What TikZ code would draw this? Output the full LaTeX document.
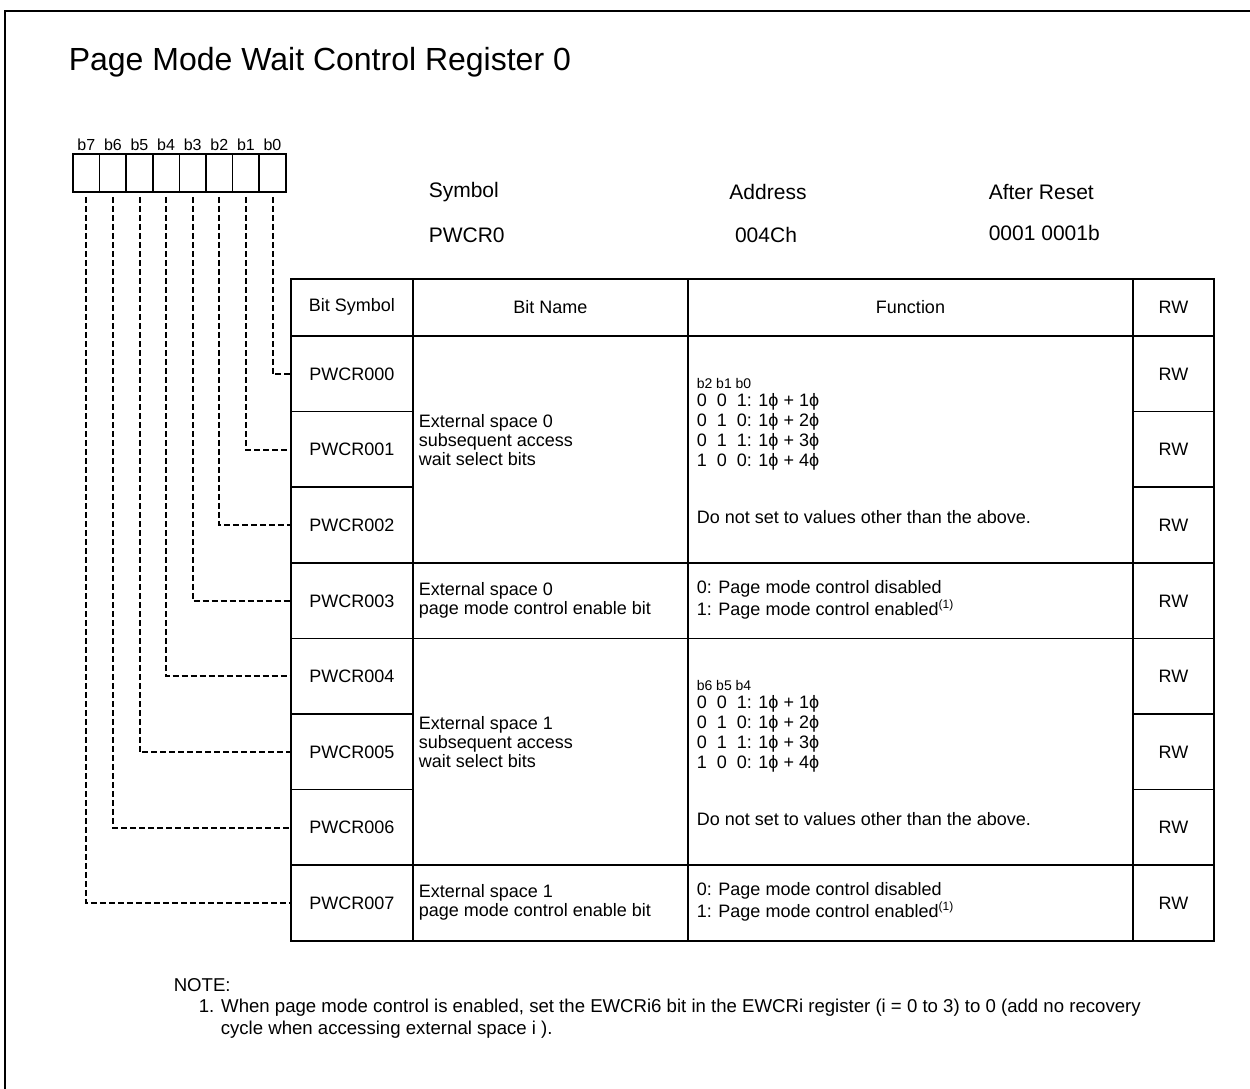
\documentclass[tikz,border=0pt]{standalone}
\usepackage{fontspec}
\setmainfont{Liberation Sans}

\begin{document}
\begin{tikzpicture}[x=0.5pt, y=-0.5pt, line width=0.8pt]
  \tikzset{bitcell/.style={draw, rectangle, inner sep=0pt, minimum width=13.3pt, minimum height=19pt},
    bitlabel/.style={font=\fontsize{8}{9}\selectfont, inner sep=0pt},
    symcell/.style={rectangle, inner sep=0pt, minimum width=61pt, minimum height=37.8pt, font=\fontsize{9}{10}\selectfont},
    rwcell/.style={rectangle, inner sep=0pt, minimum width=40.5pt, minimum height=37.8pt, font=\fontsize{9}{10}\selectfont},
    headcell/.style={inner sep=0pt, font=\fontsize{9}{10}\selectfont},
    cell/.style={inner sep=0pt, font=\fontsize{9}{9.5}\selectfont, align=left, anchor=west},
    waitlist/.style={cell, font=\fontsize{9}{10}\selectfont},
    small/.style={inner sep=0pt, font=\fontsize{7}{8}\selectfont, anchor=west},
    info/.style={inner sep=0pt, font=\fontsize{10.5}{12}\selectfont},
    notetext/.style={inner sep=0pt, font=\fontsize{9.3}{11}\selectfont, anchor=west},
    link/.style={dash pattern=on 3pt off 1.5pt, line width=1pt}}
  \useasboundingbox (0,0) rectangle (1250,1089);
  \draw[line width=1pt] (5,1089) -- (5,11) -- (1250,11);

  \node[anchor=west, inner sep=0pt, font=\fontsize{16}{19}\selectfont] (title) at (68,62) {Page Mode Wait Control Register 0};

  % register bits
  \foreach \i in {0,...,7} {
    \node[bitcell] (b\i) at ({73+26.6*(7.5-\i)},173) {};
    \node[bitlabel] (lb\i) at ({73+26.6*(7.5-\i)},145) {b\i};
  }

  \node[info, anchor=west] (symlbl) at (428,192) {Symbol};
  \node[info, anchor=west] (symval) at (428,235) {PWCR0};
  \node[info] (addrlbl) at (768,192) {Address};
  \node[info] (addrval) at (766,235) {004Ch};
  \node[info, anchor=west] (rstlbl) at (988,192) {After Reset};
  \node[info, anchor=west] (rstval) at (988,233) {0001 0001b};

  % table grid
  \draw (291,279) rectangle (1214,941);
  \draw (291,336) -- (1214,336);
  \foreach \x in {413,688,1133} \draw (\x,279) -- (\x,941);
  \foreach \r in {3,4,7} \draw (291,{336+75.6*\r}) -- (1214,{336+75.6*\r});
  \foreach \r in {1,2,5,6} {
    \draw (291,{336+75.6*\r}) -- (413,{336+75.6*\r});
    \draw (1133,{336+75.6*\r}) -- (1214,{336+75.6*\r});
  }

  \node[headcell] (hsym) at (352,307) {Bit Symbol};
  \node[headcell] (hname) at (550.5,307) {Bit Name};
  \node[headcell] (hfunc) at (910.5,307) {Function};
  \node[headcell] (hrw) at (1173.5,307) {RW};

  \foreach \i in {0,...,7} {
    \node[symcell] (s\i) at (352,{374+75.6*\i}) {PWCR00\i};
    \node[rwcell] (rw\i) at (1173.5,{374+75.6*\i}) {RW};
    \draw[link] ([yshift=-2pt]b\i.south) |- (s\i.west);
  }

  \node[cell] (name0) at (418,440) {External space 0\\subsequent access\\wait select bits};
  \node[cell] (name3) at (418,600) {External space 0\\page mode control enable bit};
  \node[cell] (name4) at (418,742) {External space 1\\subsequent access\\wait select bits};
  \node[cell] (name7) at (418,902) {External space 1\\page mode control enable bit};

  \node[small] (sel0) at (696,383) {b2 b1 b0};
  \node[waitlist] (wait0) at (696,432) {0\ \ 0\ \ 1: 1ϕ + 1ϕ\\0\ \ 1\ \ 0: 1ϕ + 2ϕ\\0\ \ 1\ \ 1: 1ϕ + 3ϕ\\1\ \ 0\ \ 0: 1ϕ + 4ϕ};
  \node[cell] (warn0) at (696,517) {Do not set to values other than the above.};
  \node[cell] (func3) at (696,600) {0: Page mode control disabled\\1: Page mode control enabled\textsuperscript{(1)}};
  \node[small] (sel1) at (696,685) {b6 b5 b4};
  \node[waitlist] (wait1) at (696,734) {0\ \ 0\ \ 1: 1ϕ + 1ϕ\\0\ \ 1\ \ 0: 1ϕ + 2ϕ\\0\ \ 1\ \ 1: 1ϕ + 3ϕ\\1\ \ 0\ \ 0: 1ϕ + 4ϕ};
  \node[cell] (warn1) at (696,819) {Do not set to values other than the above.};
  \node[cell] (func7) at (696,902) {0: Page mode control disabled\\1: Page mode control enabled\textsuperscript{(1)}};

  \node[notetext] (note) at (173,985) {NOTE:};
  \node[notetext] (note1) at (198,1008) {1. When page mode control is enabled, set the EWCRi6 bit in the EWCRi register (i = 0 to 3) to 0 (add no recovery};
  \node[notetext] (note2) at (220,1030) {cycle when accessing external space i ).};
\end{tikzpicture}
\end{document}
